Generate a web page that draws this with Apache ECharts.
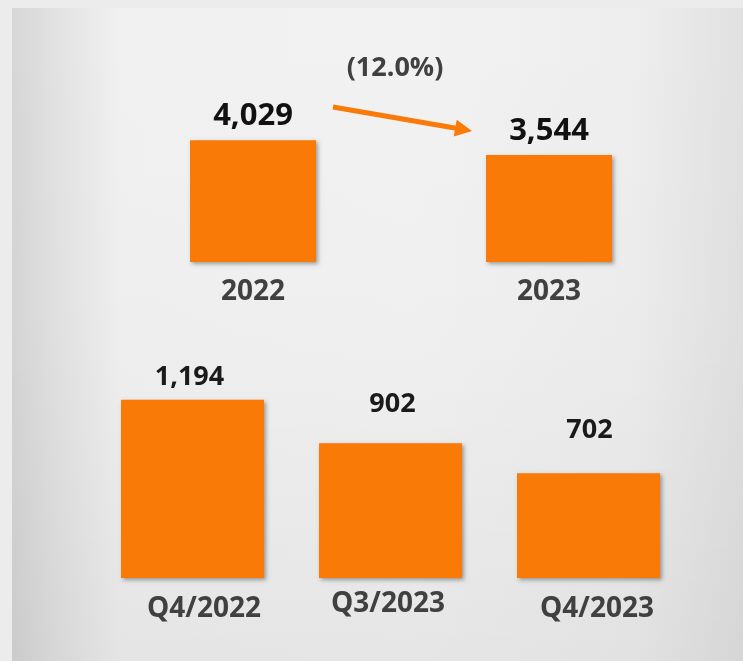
<!DOCTYPE html>
<html>
<head>
<meta charset="utf-8">
<script src="https://cdn.jsdelivr.net/npm/echarts@6/dist/echarts.min.js"></script>
<style>
  html, body { margin: 0; padding: 0; background: #ececec; }
  #main { width: 743px; height: 661px; }
</style>
</head>
<body>
<div id="main"></div>
<script>
// yearly totals (top panel)
const yearCats = ['2022', '2023']
const yearValues = [4029, 3544]
const changeText = '(12.0%)'

// quarterly (bottom panel)
const quarterCats = ['Q4/2022', 'Q3/2023', 'Q4/2023']
const quarterValues = [1194, 902, 702]

const ORANGE = '#f97a06'
const FONT = '"Open Sans", "DejaVu Sans", sans-serif'

// label gaps above each bar, tuned by eye
const yearGap = [9, 8]
const quarterGap = [9, 25, 29]
const quarterShift = [-3, 2, 1]

const fmt = (p) => Number(p.value).toLocaleString('en-US')

const barShadow = {
  color: ORANGE,
  shadowColor: 'rgba(0,0,0,0.35)',
  shadowBlur: 4,
  shadowOffsetX: 2,
  shadowOffsetY: 2
}

const chart = echarts.init(document.getElementById('main'))

// arrow from 2022 to 2023
const a0 = [333, 107]
const a1 = [472, 131]
const dx = a1[0] - a0[0]
const dy = a1[1] - a0[1]
const len = Math.sqrt(dx * dx + dy * dy)
const ux = dx / len
const uy = dy / len
const head = 17
const hw = 8.5
const bx = a1[0] - ux * head
const by = a1[1] - uy * head

chart.setOption({
  backgroundColor: '#ececec',
  animation: false,
  graphic: [
    {
      type: 'rect',
      z: -10,
      silent: true,
      shape: { x: 12, y: 8, width: 731, height: 653 },
      style: {
        fill: new echarts.graphic.LinearGradient(0, 0, 1, 0, [
          { offset: 0, color: '#d6d6d6' },
          { offset: 0.06, color: '#e2e2e2' },
          { offset: 0.15, color: '#f1f1f1' },
          { offset: 0.55, color: '#f2f2f2' },
          { offset: 0.85, color: '#eeeeee' },
          { offset: 1, color: '#e1e1e1' }
        ])
      }
    },
    {
      type: 'rect',
      z: -9,
      silent: true,
      shape: { x: 12, y: 8, width: 731, height: 653 },
      style: {
        fill: new echarts.graphic.LinearGradient(0, 0, 0, 1, [
          { offset: 0, color: 'rgba(0,0,0,0)' },
          { offset: 0.5, color: 'rgba(0,0,0,0.01)' },
          { offset: 1, color: 'rgba(0,0,0,0.05)' }
        ])
      }
    },
    {
      type: 'line',
      z: 10,
      shape: { x1: a0[0], y1: a0[1], x2: bx + ux, y2: by + uy },
      style: { stroke: ORANGE, lineWidth: 5 }
    },
    {
      type: 'polygon',
      z: 10,
      shape: {
        points: [
          [a1[0], a1[1]],
          [bx - uy * hw, by + ux * hw],
          [bx + uy * hw, by - ux * hw]
        ]
      },
      style: { fill: ORANGE }
    },
    {
      type: 'text',
      z: 10,
      x: 395,
      y: 68,
      style: {
        text: changeText,
        fill: '#404040',
        font: 'bold 27px ' + FONT,
        align: 'center',
        verticalAlign: 'middle'
      }
    }
  ],
  grid: [
    { left: 105, right: 46, top: 111, bottom: 399 },
    { left: 93.5, right: 55.5, top: 354, bottom: 83 }
  ],
  xAxis: [
    {
      type: 'category',
      gridIndex: 0,
      data: yearCats,
      axisLine: { show: false },
      axisTick: { show: false },
      axisLabel: {
        margin: 16,
        color: '#404040',
        fontFamily: FONT,
        fontWeight: 'bold',
        fontSize: 28
      }
    },
    {
      type: 'category',
      gridIndex: 1,
      data: quarterCats,
      axisLine: { show: false },
      axisTick: { show: false },
      axisLabel: {
        margin: 12,
        formatter: (v, i) => '{q' + i + '|' + v + '}',
        rich: {
          q0: { color: '#404040', fontFamily: FONT, fontWeight: 'bold', fontSize: 28, padding: [5, 0, 0, 23] },
          q1: { color: '#404040', fontFamily: FONT, fontWeight: 'bold', fontSize: 28, padding: [0, 5, 0, 0] },
          q2: { color: '#404040', fontFamily: FONT, fontWeight: 'bold', fontSize: 28, padding: [5, 0, 0, 17] }
        }
      }
    }
  ],
  yAxis: [
    { type: 'value', gridIndex: 0, min: 0, max: 5000, show: false },
    { type: 'value', gridIndex: 1, min: 0, max: 1500, show: false }
  ],
  series: [
    {
      type: 'bar',
      xAxisIndex: 0,
      yAxisIndex: 0,
      barWidth: 126,
      itemStyle: barShadow,
      label: {
        show: true,
        position: 'top',
        formatter: fmt,
        color: '#111',
        fontFamily: FONT,
        fontWeight: 'bold',
        fontSize: 31
      },
      data: yearValues.map((v, i) => ({ value: v, label: { distance: yearGap[i] } }))
    },
    {
      type: 'bar',
      xAxisIndex: 1,
      yAxisIndex: 1,
      barWidth: 143,
      itemStyle: barShadow,
      label: {
        show: true,
        position: 'top',
        formatter: fmt,
        color: '#1a1a1a',
        fontFamily: FONT,
        fontWeight: 'bold',
        fontSize: 27
      },
      data: quarterValues.map((v, i) => ({
        value: v,
        label: { distance: quarterGap[i], offset: [quarterShift[i], 0] }
      }))
    }
  ]
})

window.onresize = function () {
  chart.resize()
}
</script>
</body>
</html>
